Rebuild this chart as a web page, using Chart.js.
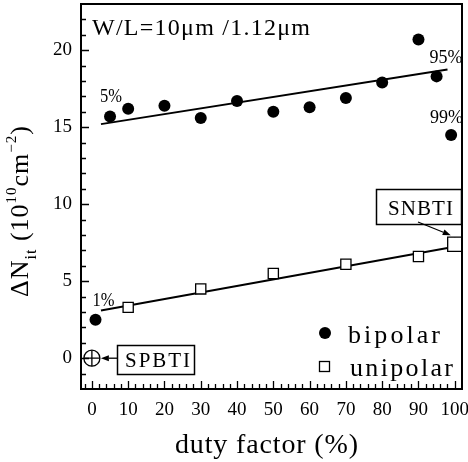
<!DOCTYPE html>
<html><head><meta charset="utf-8">
<script src="https://cdn.jsdelivr.net/npm/chart.js@4/dist/chart.umd.min.js"></script>
<style>html,body{margin:0;padding:0;background:#fff;}</style>
</head><body>
<canvas id="c" width="468" height="462" style="width:468px;height:462px;display:block"></canvas>
<script>
// ---- data ----
const bipolarX = [1, 5, 10, 20, 30, 40, 50, 60, 70, 80, 90, 95, 99];
const bipolarY = [2.5, 15.7, 16.2, 16.4, 15.6, 16.7, 16.0, 16.3, 16.9, 17.9, 20.7, 18.3, 14.5];
const unipolarX = [10, 30, 50, 70, 90];
const unipolarY = [3.3, 4.5, 5.5, 6.1, 6.6];
const snbtiX = [100], snbtiY = [7.4];
const spbtiX = [0], spbtiY = [0];
const bipolarFitX = [2.5, 98], bipolarFitY = [15.2, 18.75];
const unipolarFitX = [2.5, 98], unipolarFitY = [3.1, 7.15];
const xTickLabels = [0, 10, 20, 30, 40, 50, 60, 70, 80, 90, 100];
const yTickLabels = [0, 5, 10, 15, 20];
const pctLabels = ["1%", "5%", "95%", "99%"];
const seriesNames = ["bipolar", "unipolar"];

const FONT = "'Liberation Serif', 'DejaVu Serif', serif";
const pts = (xs, ys) => xs.map((x, i) => ({x, y: ys[i]}));

function fitText(ctx, text, x, y, size, width) {
  ctx.save();
  ctx.font = size + "px " + FONT;
  ctx.letterSpacing = "0px";
  ctx.textAlign = "left";
  ctx.textBaseline = "alphabetic";
  const w0 = ctx.measureText(text).width;
  const n = text.length;
  if (w0 >= width || n < 2) {
    ctx.translate(x, y);
    ctx.scale(width / w0, 1);
    ctx.fillText(text, 0, 0);
  } else {
    ctx.letterSpacing = ((width - w0) / (n - 1)) + "px";
    ctx.fillText(text, x, y);
  }
  ctx.restore();
}
function arrow(ctx, x1, y1, x2, y2) {
  ctx.save();
  ctx.strokeStyle = "#000"; ctx.fillStyle = "#000"; ctx.lineWidth = 1.3;
  const a = Math.atan2(y2 - y1, x2 - x1);
  const L = 8, W = 3;
  const bx = x2 - L * Math.cos(a), by = y2 - L * Math.sin(a);
  ctx.beginPath(); ctx.moveTo(x1, y1); ctx.lineTo(bx, by); ctx.stroke();
  ctx.beginPath(); ctx.moveTo(x2, y2);
  ctx.lineTo(bx + W * Math.sin(a), by - W * Math.cos(a));
  ctx.lineTo(bx - W * Math.sin(a), by + W * Math.cos(a));
  ctx.closePath(); ctx.fill();
  ctx.restore();
}

const decor = {
  id: "decor",
  afterDraw(chart) {
    const ctx = chart.ctx, a = chart.chartArea;
    const xs = chart.scales.x, ys = chart.scales.y;
    ctx.save();
    ctx.strokeStyle = "#000"; ctx.fillStyle = "#000";
    // frame
    ctx.lineWidth = 2;
    ctx.strokeRect(a.left, a.top, a.right - a.left, a.bottom - a.top);
    // ticks (inward)
    ctx.lineWidth = 1.3;
    ctx.beginPath();
    for (let v = -2; v <= 102; v += 2) {
      const p = Math.round(xs.getPixelForValue(v)) + 0.5;
      if (p <= a.left + 1 || p >= a.right - 1) continue;
      const len = xTickLabels.includes(v) ? 8 : 5;
      ctx.moveTo(p, a.bottom); ctx.lineTo(p, a.bottom - len);
    }
    for (let v = -1; v <= 22; v += 1) {
      const p = Math.round(ys.getPixelForValue(v)) + 0.5;
      const len = yTickLabels.includes(v) ? 8 : 5;
      ctx.moveTo(a.left, p); ctx.lineTo(a.left + len, p);
    }
    ctx.stroke();

    // header text
    fitText(ctx, "W/L=10\u03bcm /1.12\u03bcm", 92, 35, 24, 218);

    // percent labels anchored near their points
    const px = (v) => xs.getPixelForValue(v), py = (v) => ys.getPixelForValue(v);
    fitText(ctx, pctLabels[0], px(bipolarX[0]) - 3, py(bipolarY[0]) - 14, 19, 22);
    fitText(ctx, pctLabels[1], px(bipolarX[1]) - 10, py(bipolarY[1]) - 14, 19, 22);
    fitText(ctx, pctLabels[2], px(bipolarX[11]) - 7, py(bipolarY[11]) - 13, 19, 33);
    fitText(ctx, pctLabels[3], px(bipolarX[12]) - 21, py(bipolarY[12]) - 12, 19, 33);

    // SNBTI callout
    ctx.lineWidth = 1.5;
    const sx = px(snbtiX[0]), sy = py(snbtiY[0]);
    ctx.strokeRect(376.5, 189.5, 85, 35);
    fitText(ctx, "SNBTI", 388, 215, 21, 65);
    arrow(ctx, 418, 222, sx - 4, sy - 9);

    // SPBTI callout
    const qx = px(spbtiX[0]), qy = py(spbtiY[0]);
    ctx.lineWidth = 1.5;
    ctx.strokeRect(117.5, 345.5, 77, 29);
    fitText(ctx, "SPBTI", 125, 367, 21, 65);
    arrow(ctx, 117, qy, qx + 9, qy);

    // legend
    ctx.beginPath(); ctx.arc(325, 333, 6, 0, Math.PI * 2); ctx.fill();
    ctx.lineWidth = 1.3;
    ctx.strokeRect(319.5, 361.5, 10, 10);
    fitText(ctx, seriesNames[0], 348, 343, 26, 92);
    fitText(ctx, seriesNames[1], 350, 376, 26, 103);

    // x title
    fitText(ctx, "duty factor (%)", 175, 453, 28, 183);

    // y title (rotated, with sub/superscripts)
    ctx.translate(28, 297);
    ctx.rotate(-Math.PI / 2);
    ctx.textBaseline = "alphabetic"; ctx.textAlign = "left";
    const parts = [
      ["\u0394N", 26, 0, 1], ["it", 16, 8, 1], [" (10", 26, 0, 1], ["10", 15, -12, 1],
      ["cm", 26, 0, 1], ["\u22122", 15, -12, 1], [")", 26, 0, 0]
    ];
    let cx = 0;
    for (const [t, s, off, sp] of parts) {
      ctx.font = s + "px " + FONT;
      ctx.letterSpacing = sp + "px";
      ctx.fillText(t, cx, off);
      cx += ctx.measureText(t).width;
    }
    ctx.restore();
  }
};

Chart.defaults.font.family = FONT;
Chart.defaults.color = "#000";

new Chart(document.getElementById("c"), {
  type: "scatter",
  data: {
    datasets: [
      { label: seriesNames[0], data: pts(bipolarX, bipolarY), pointStyle: "circle", pointRadius: 6,
        backgroundColor: "#000", borderColor: "#000", borderWidth: 0 },
      { label: seriesNames[1], data: pts(unipolarX, unipolarY), pointStyle: "rect", pointRadius: 7.2,
        backgroundColor: "#fff", borderColor: "#000", borderWidth: 1.3 },
      { type: "line", label: "fit-b", data: pts(bipolarFitX, bipolarFitY), showLine: true,
        borderColor: "#000", borderWidth: 2, pointRadius: 0, fill: false },
      { type: "line", label: "fit-u", data: pts(unipolarFitX, unipolarFitY), showLine: true,
        borderColor: "#000", borderWidth: 2, pointRadius: 0, fill: false },
      { label: "SNBTI", data: pts(snbtiX, snbtiY), pointStyle: "rect", pointRadius: 10,
        backgroundColor: "#fff", borderColor: "#000", borderWidth: 1.3 },
      { label: "SNBTI+", data: pts(snbtiX, snbtiY), pointStyle: "cross", pointRadius: 7,
        borderColor: "#000", borderWidth: 1.3 },
      { label: "SPBTI", data: pts(spbtiX, spbtiY), pointStyle: "circle", pointRadius: 8,
        backgroundColor: "rgba(0,0,0,0)", borderColor: "#000", borderWidth: 1.3 },
      { label: "SPBTI+", data: pts(spbtiX, spbtiY), pointStyle: "cross", pointRadius: 8,
        borderColor: "#000", borderWidth: 1.3 }
    ]
  },
  options: {
    responsive: false, animation: false, devicePixelRatio: 1,
    layout: { autoPadding: false, padding: { top: 4, right: 6, left: 0, bottom: 0 } },
    plugins: { legend: { display: false }, tooltip: { enabled: false } },
    scales: {
      x: {
        type: "linear", min: -3, max: 102,
        afterBuildTicks: (s) => { s.ticks = xTickLabels.map(v => ({value: v})); },
        afterFit: (s) => { s.height = 73; s.paddingLeft = 0; s.paddingRight = 0; },
        grid: { display: false, drawTicks: false },
        border: { display: false },
        ticks: { font: { size: 19 }, padding: 10, maxRotation: 0, autoSkip: false, color: "#000" }
      },
      y: {
        type: "linear", min: -2, max: 23,
        afterBuildTicks: (s) => { s.ticks = yTickLabels.map(v => ({value: v})); },
        afterFit: (s) => { s.width = 81; s.paddingTop = 0; s.paddingBottom = 0; },
        grid: { display: false, drawTicks: false },
        border: { display: false },
        ticks: { font: { size: 19 }, padding: 9, color: "#000" }
      }
    }
  },
  plugins: [decor]
});
</script>
</body></html>
